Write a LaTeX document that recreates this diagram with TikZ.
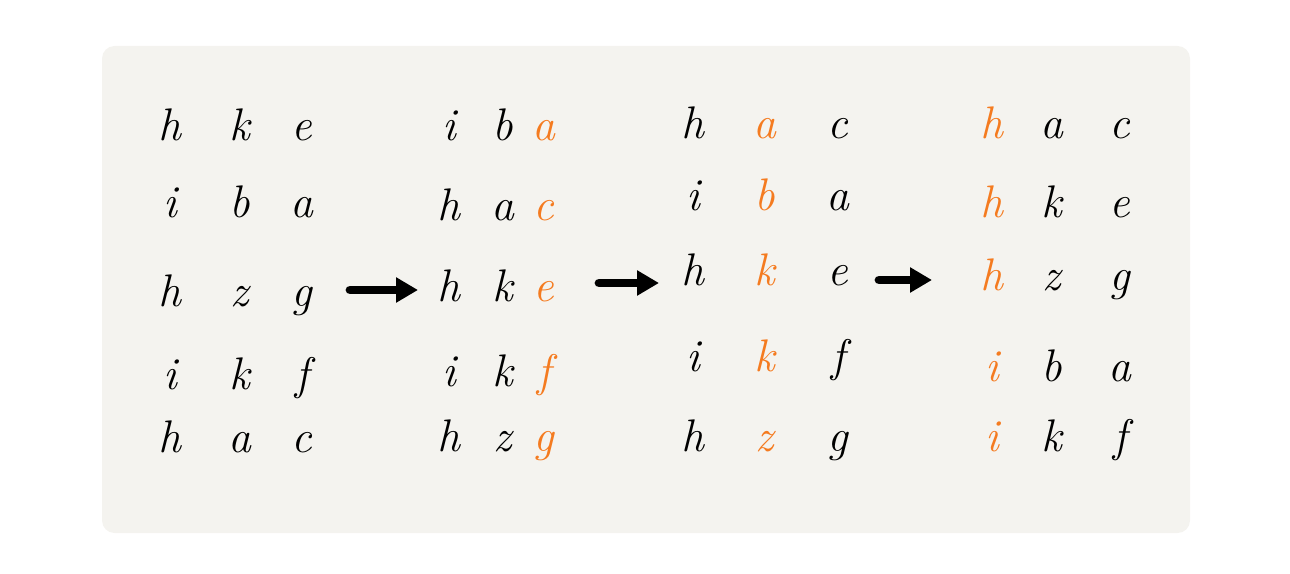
\documentclass[tikz,border=0pt]{standalone}
\usepackage{tikz}
\usetikzlibrary{arrows.meta,positioning}
\definecolor{paper}{HTML}{F4F3EF}
\definecolor{mark}{HTML}{F47B20}
\tikzset{
  ch/.style = {font=\fontsize{26}{28}\selectfont\itshape, text=black, inner sep=0pt, anchor=base, yshift=-0.22cm},
  hl/.style = {ch, text=mark},
  arrow/.style = {line width=5pt, line cap=round, -{Triangle[length=0.44cm, width=0.48cm]}}
}
\begin{document}
\begin{tikzpicture}[x=0.02cm, y=-0.02cm]
            \useasboundingbox (0,0) rectangle (1290,574);
            \fill[paper, rounded corners=0.25cm] (102,46) rectangle (1190,533);
            % input
            \foreach \y/\a/\b/\c [count=\i] in {130/h/k/e, 207/i/b/a, 295/h/z/g, 378/i/k/f, 441/h/a/c} {
                \node[ch] (p1-\i-1) at (170,\y) {\a};
                \node[ch] (p1-\i-2) at (240,\y) {\b};
                \node[ch] (p1-\i-3) at (302,\y) {\c};
            }
            % sorted by last letter
            \foreach \y/\a/\b/\c [count=\i] in {130/i/b/a, 210/h/a/c, 290/h/k/e, 375/i/k/f, 440/h/z/g} {
                \node[ch] (p2-\i-1) at (449,\y) {\a};
                \node[ch] (p2-\i-2) at (503,\y) {\b};
                \node[hl] (p2-\i-3) at (544,\y) {\c};
            }
            % sorted by middle letter
            \foreach \y/\a/\b/\c [count=\i] in {128/h/a/c, 200/i/b/a, 275/h/k/e, 360/i/k/f, 440/h/z/g} {
                \node[ch] (p3-\i-1) at (693,\y) {\a};
                \node[hl] (p3-\i-2) at (765,\y) {\b};
                \node[ch] (p3-\i-3) at (838,\y) {\c};
            }
            % sorted by first letter
            \foreach \y/\a/\b/\c [count=\i] in {128/h/a/c, 207/h/k/e, 280/h/z/g, 370/i/b/a, 440/i/k/f} {
                \node[hl] (p4-\i-1) at (992,\y) {\a};
                \node[ch] (p4-\i-2) at (1052,\y) {\b};
                \node[ch] (p4-\i-3) at (1120,\y) {\c};
            }
            \coordinate (a1s) at (350,290);
            \coordinate (a1e) at (418,290);
            \coordinate (a2s) at (599,283);
            \coordinate (a2e) at (659,283);
            \coordinate (a3s) at (879,280);
            \coordinate (a3e) at (932,280);
            \draw[arrow] (a1s) -- (a1e);
            \draw[arrow] (a2s) -- (a2e);
            \draw[arrow] (a3s) -- (a3e);
        \end{tikzpicture}
\end{document}
